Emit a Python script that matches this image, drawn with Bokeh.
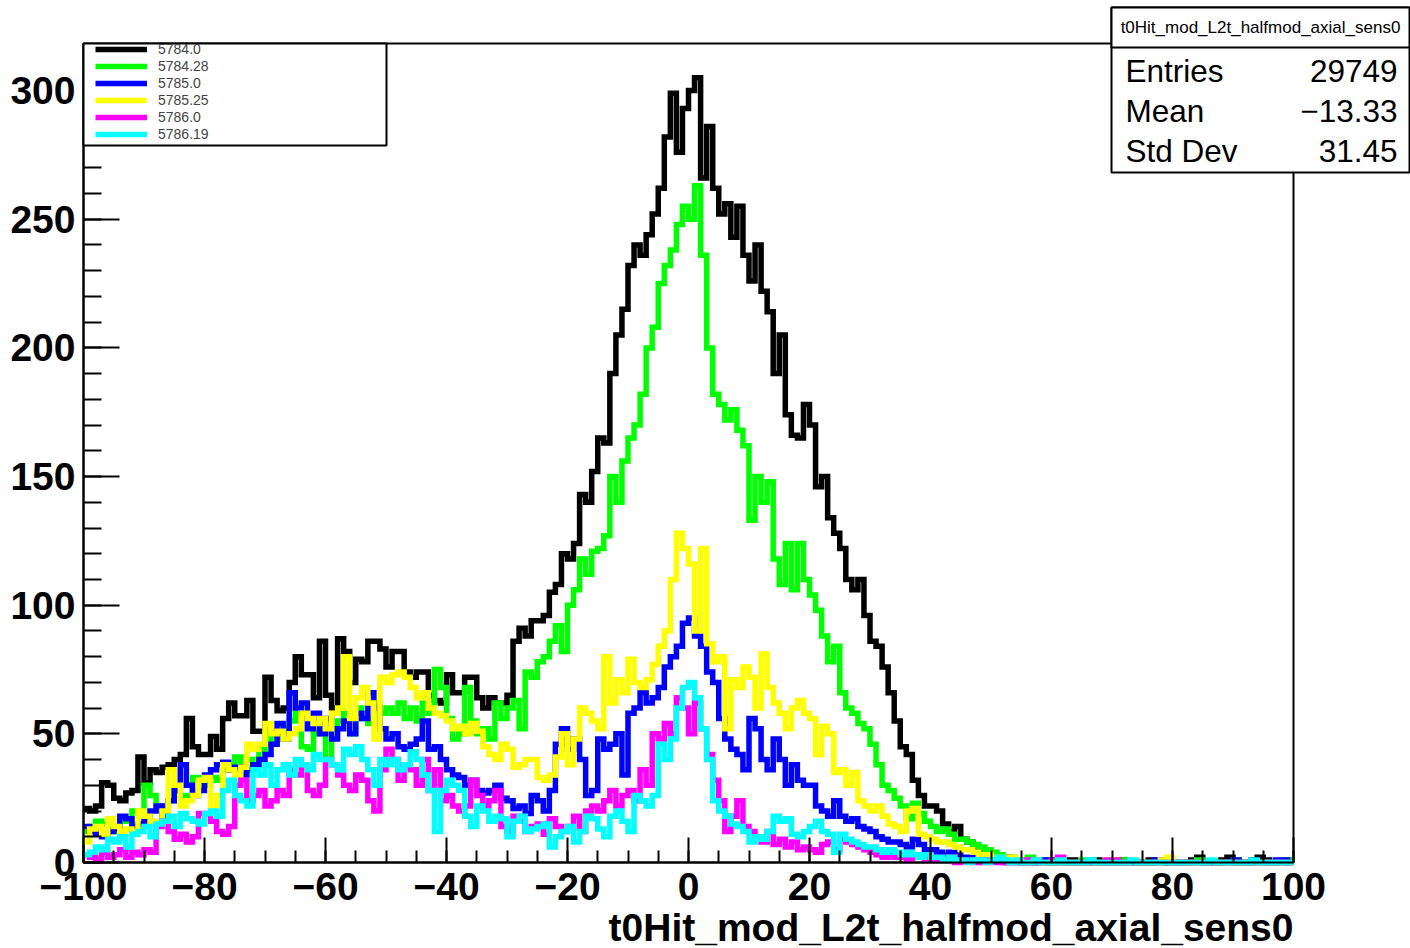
import numpy as np
from bokeh.plotting import figure
from bokeh.models import (Range1d, FixedTicker, Legend, LegendItem, Label,
                          BoxAnnotation, CustomJSTickFormatter)
from bokeh.embed import file_html
from bokeh.resources import INLINE

# ---------------- data ----------------
hist_name = "t0Hit_mod_L2t_halfmod_axial_sens0"
bin_low, bin_high = -100, 100          # 200 bins of width 1

run_labels = ["5784.0", "5784.28", "5785.0", "5785.25", "5786.0", "5786.19"]
run_colors = ["#000000", "#00ff00", "#0000ff", "#ffff00", "#ff00ff", "#00ffff"]

counts_5784_0 = [
    21, 20, 22, 31, 30, 25, 24, 27, 28, 41,
    31, 36, 35, 37, 38, 40, 42, 56, 45, 42,
    42, 49, 44, 56, 62, 57, 57, 63, 51, 51,
    72, 63, 59, 60, 70, 80, 73, 73, 64, 86,
    65, 60, 87, 82, 70, 79, 78, 86, 86, 83,
    76, 82, 82, 74, 72, 74, 74, 65, 63, 62,
    73, 66, 66, 72, 72, 64, 60, 64, 62, 62,
    65, 86, 91, 88, 94, 94, 96, 105, 108, 120,
    118, 124, 143, 140, 152, 165, 163, 190, 205, 215,
    232, 240, 236, 244, 252, 262, 282, 299, 276, 293,
    300, 305, 266, 286, 262, 252, 256, 243, 255, 236,
    226, 240, 222, 214, 190, 205, 174, 166, 165, 178,
    170, 146, 150, 134, 128, 122, 110, 106, 110, 96,
    86, 84, 76, 66, 55, 45, 42, 32, 26, 22,
    22, 20, 15, 12, 14, 9, 8, 5, 4, 4,
    3, 2, 2, 1, 1, 0, 1, 0, 1, 0,
    1, 0, 0, 1, 0, 0, 0, 1, 0, 0,
    0, 1, 0, 0, 0, 0, 1, 0, 0, 0,
    0, 0, 0, 1, 2, 0, 0, 0, 1, 2,
    0, 0, 0, 1, 2, 1, 0, 0, 0, 1,
]
counts_5784_28 = [
    12, 14, 16, 15, 13, 12, 16, 16, 20, 20,
    30, 26, 22, 20, 24, 28, 26, 25, 33, 30,
    30, 33, 32, 36, 38, 41, 36, 40, 38, 44,
    50, 46, 48, 52, 55, 58, 45, 44, 50, 52,
    40, 52, 55, 58, 50, 60, 56, 54, 62, 58,
    60, 58, 62, 56, 60, 55, 62, 58, 75, 68,
    56, 48, 50, 68, 55, 50, 52, 48, 62, 56,
    60, 63, 52, 74, 72, 78, 80, 86, 92, 82,
    100, 106, 118, 112, 121, 122, 127, 150, 140, 156,
    165, 170, 182, 200, 208, 225, 232, 238, 248, 255,
    250, 263, 236, 200, 182, 178, 172, 176, 168, 162,
    133, 150, 140, 148, 118, 108, 124, 106, 124, 110,
    104, 98, 88, 78, 84, 66, 60, 58, 54, 52,
    46, 38, 30, 28, 25, 22, 17, 23, 19, 16,
    14, 12, 13, 11, 9, 9, 8, 7, 6, 5,
    4, 3, 2, 2, 1, 1, 2, 1, 1, 0,
    0, 1, 0, 0, 0, 1, 1, 0, 0, 0,
    0, 0, 1, 0, 0, 0, 0, 0, 1, 0,
    0, 0, 0, 0, 1, 0, 0, 0, 0, 0,
    1, 0, 0, 0, 0, 0, 0, 0, 1, 1,
]
counts_5785_0 = [
    14, 12, 11, 10, 12, 13, 18, 17, 14, 15,
    16, 20, 22, 18, 24, 28, 38, 30, 26, 28,
    34, 36, 38, 39, 36, 37, 34, 36, 38, 40,
    42, 46, 54, 48, 66, 60, 62, 52, 58, 50,
    56, 48, 52, 55, 50, 58, 56, 66, 60, 52,
    48, 50, 45, 44, 46, 48, 55, 44, 45, 40,
    36, 34, 33, 30, 32, 28, 27, 28, 30, 25,
    24, 21, 22, 19, 26, 24, 20, 28, 46, 52,
    44, 48, 40, 26, 28, 48, 44, 46, 50, 34,
    58, 60, 66, 62, 64, 68, 76, 80, 84, 93,
    95, 88, 84, 74, 70, 56, 48, 44, 42, 36,
    56, 52, 40, 36, 48, 40, 30, 38, 32, 30,
    30, 22, 20, 18, 24, 18, 16, 17, 14, 13,
    12, 10, 9, 8, 8, 7, 6, 9, 7, 5,
    5, 4, 3, 4, 3, 2, 2, 1, 2, 1,
    1, 1, 0, 1, 0, 0, 1, 0, 1, 1,
    0, 0, 0, 0, 0, 0, 0, 0, 0, 0,
    0, 0, 0, 0, 0, 0, 0, 1, 1, 0,
    0, 0, 0, 0, 0, 0, 0, 0, 0, 0,
    1, 0, 0, 0, 0, 0, 0, 1, 1, 0,
]
counts_5785_25 = [
    8, 13, 14, 11, 17, 14, 12, 13, 12, 20,
    18, 16, 14, 20, 36, 30, 22, 24, 26, 32,
    33, 22, 26, 38, 36, 33, 37, 46, 44, 46,
    54, 50, 51, 48, 50, 52, 58, 56, 54, 56,
    52, 58, 60, 80, 56, 64, 68, 62, 48, 72,
    70, 73, 74, 72, 68, 64, 66, 60, 58, 57,
    55, 52, 53, 50, 54, 51, 45, 42, 40, 46,
    44, 37, 38, 40, 40, 33, 32, 34, 41, 50,
    38, 48, 60, 58, 55, 52, 80, 62, 71, 66,
    79, 70, 68, 71, 77, 84, 90, 110, 128, 122,
    116, 90, 122, 85, 78, 80, 52, 71, 68, 76,
    72, 60, 81, 68, 62, 58, 52, 60, 63, 58,
    56, 42, 53, 50, 35, 36, 30, 35, 24, 22,
    20, 22, 18, 15, 14, 12, 20, 21, 11, 10,
    9, 8, 8, 7, 6, 5, 5, 4, 3, 3,
    2, 2, 1, 2, 1, 0, 1, 1, 0, 0,
    0, 0, 0, 0, 0, 0, 0, 0, 0, 1,
    1, 0, 0, 0, 0, 0, 0, 0, 1, 2,
    0, 0, 0, 0, 0, 0, 0, 0, 0, 0,
    0, 0, 0, 0, 0, 0, 0, 0, 0, 0,
]
counts_5786_0 = [
    3, 2, 1, 4, 2, 3, 5, 2, 4, 3,
    5, 4, 14, 16, 12, 9, 11, 8, 10, 19,
    19, 16, 12, 11, 14, 30, 32, 24, 26, 28,
    22, 24, 28, 26, 36, 34, 38, 28, 26, 30,
    40, 38, 34, 30, 28, 34, 32, 24, 20, 36,
    44, 40, 32, 38, 36, 30, 40, 28, 36, 24,
    26, 22, 20, 22, 32, 26, 22, 24, 28, 14,
    12, 18, 16, 12, 14, 15, 11, 17, 14, 12,
    14, 18, 12, 20, 22, 20, 24, 28, 22, 26,
    28, 24, 36, 30, 50, 48, 54, 50, 64, 60,
    50, 62, 52, 42, 32, 24, 12, 18, 24, 14,
    12, 10, 8, 12, 7, 9, 6, 8, 5, 6,
    5, 4, 7, 8, 5, 9, 8, 7, 6, 5,
    4, 3, 2, 3, 2, 2, 1, 3, 2, 1,
    2, 1, 1, 2, 0, 1, 1, 0, 0, 1,
    0, 1, 0, 0, 0, 0, 1, 0, 0, 0,
    1, 2, 0, 0, 0, 0, 0, 0, 0, 1,
    1, 0, 0, 0, 0, 0, 0, 0, 0, 0,
    0, 0, 0, 0, 0, 0, 0, 0, 0, 0,
    0, 0, 0, 0, 0, 0, 0, 0, 0, 0,
]
counts_5786_19 = [
    3, 4, 6, 5, 9, 8, 10, 6, 11, 12,
    14, 10, 15, 16, 18, 14, 19, 17, 16, 15,
    19, 20, 18, 28, 32, 26, 24, 22, 36, 34,
    38, 30, 36, 38, 34, 40, 38, 36, 42, 40,
    40, 38, 36, 44, 42, 45, 40, 36, 30, 40,
    38, 40, 36, 38, 43, 40, 34, 28, 12, 28,
    32, 30, 28, 18, 14, 22, 20, 16, 18, 17,
    10, 16, 18, 12, 13, 14, 15, 6, 10, 12,
    14, 8, 12, 18, 17, 13, 10, 18, 20, 16,
    12, 26, 24, 22, 26, 46, 40, 48, 60, 68,
    70, 64, 52, 40, 24, 20, 18, 15, 14, 12,
    8, 10, 9, 12, 18, 16, 17, 11, 10, 12,
    14, 16, 12, 11, 4, 11, 9, 8, 7, 6,
    6, 5, 4, 5, 4, 3, 4, 3, 2, 3,
    2, 2, 1, 2, 1, 1, 0, 1, 1, 0,
    1, 2, 1, 0, 1, 0, 0, 1, 0, 0,
    0, 1, 0, 0, 0, 0, 1, 0, 0, 0,
    0, 0, 0, 1, 0, 0, 0, 0, 0, 0,
    0, 0, 0, 0, 0, 0, 1, 0, 0, 0,
    0, 0, 0, 1, 0, 0, 0, 0, 0, 0,
]
all_counts = [counts_5784_0, counts_5784_28, counts_5785_0,
              counts_5785_25, counts_5786_0, counts_5786_19]

x_major = [-100, -80, -60, -40, -20, 0, 20, 40, 60, 80, 100]
x_minor = list(range(-100, 101, 5))
y_major = [0, 50, 100, 150, 200, 250, 300]
y_minor = list(range(0, 311, 10))
y_top = 318.3

stats_names = ["Entries", "Mean", "Std Dev"]
stats_values = ["29749", "\u221213.33", "31.45"]

# ---------------- layout (pixels) ----------------
W, H = 1410, 948
PX_L, PX_R, PX_T, PX_B = 83, 1293, 43, 862      # histogram frame on canvas
ux = (PX_R - PX_L) / (bin_high - bin_low)
uy = (PX_B - PX_T) / y_top

p = figure(width=W, height=H, output_backend="svg", toolbar_location=None,
           x_range=Range1d(bin_low - PX_L / ux, bin_high + (W - PX_R) / ux),
           y_range=Range1d(-(H - PX_B) / uy, y_top + PX_T / uy),
           min_border=0)
p.title.visible = False
p.background_fill_color = "white"
p.border_fill_color = "white"
p.outline_line_color = None
p.xgrid.visible = False
p.ygrid.visible = False

fmt = CustomJSTickFormatter(code="return tick < 0 ? '\\u2212' + Math.abs(tick) : String(tick);")

xa = p.xaxis[0]
xa.fixed_location = 0
xa.bounds = (bin_low, bin_high)
xa.ticker = FixedTicker(ticks=x_major, minor_ticks=x_minor)
xa.formatter = fmt
xa.major_tick_in, xa.major_tick_out = 25, 0
xa.minor_tick_in, xa.minor_tick_out = 12, 0
xa.major_label_standoff = 10

ya = p.yaxis[0]
ya.fixed_location = bin_low
ya.bounds = (0, y_top)
ya.ticker = FixedTicker(ticks=y_major, minor_ticks=y_minor)
ya.formatter = fmt
ya.major_tick_in, ya.major_tick_out = 36, 0
ya.minor_tick_in, ya.minor_tick_out = 18, 0
ya.major_label_standoff = 8

for ax in (xa, ya):
    ax.axis_line_width = 2
    ax.major_tick_line_width = 2
    ax.minor_tick_line_width = 2
    ax.axis_line_color = "black"
    ax.major_tick_line_color = "black"
    ax.minor_tick_line_color = "black"
    ax.major_label_text_font = "Liberation Sans"
    ax.major_label_text_font_style = "bold"
    ax.major_label_text_font_size = "39px"
    ax.major_label_text_color = "black"

# frame box (top and right edges of the histogram frame)
p.add_layout(BoxAnnotation(left=bin_low, right=bin_high, bottom=0, top=y_top,
                           fill_alpha=0, line_color="black", line_alpha=1,
                           line_width=2, level="underlay"))

edges = np.linspace(bin_low, bin_high, len(counts_5784_0) + 1)
items = []
for lab, col, cnt in zip(run_labels, run_colors, all_counts):
    yv = np.append(np.array(cnt, dtype=float), cnt[-1])
    r = p.step(x=edges, y=yv, mode="after", line_color=col, line_width=5.5,
               line_join="miter")
    items.append(LegendItem(label=lab, renderers=[r]))

# legend box + legend entries
LG_L, LG_R, LG_T, LG_B = 83, 386, 43, 145
p.add_layout(BoxAnnotation(left=LG_L, right=LG_R, top=LG_T, bottom=LG_B,
                           left_units="canvas", right_units="canvas",
                           top_units="canvas", bottom_units="canvas",
                           fill_color="white", fill_alpha=1,
                           line_color="black", line_alpha=1, line_width=2,
                           level="annotation"))
legend = Legend(items=items, location=(95, H - 142), margin=0, padding=0,
                spacing=1, glyph_width=52, glyph_height=12, label_height=12,
                label_standoff=11, label_width=200,
                label_text_font="Liberation Sans", label_text_font_size="14px",
                border_line_color=None, background_fill_alpha=0)
p.add_layout(legend)

# x-axis title (right aligned at frame edge)
p.add_layout(Label(x=PX_R, y=927, x_units="canvas", y_units="canvas",
                   text=hist_name, text_align="right", text_baseline="alphabetic",
                   text_font="Liberation Sans", text_font_style="bold",
                   text_font_size="39px", text_color="black", level="overlay"))

# statistics box
SB_L, SB_R, SB_T, SB_M, SB_B = 1111, 1409, 7, 47, 172
p.add_layout(BoxAnnotation(left=SB_L, right=SB_R, top=SB_T, bottom=SB_B,
                           left_units="canvas", right_units="canvas",
                           top_units="canvas", bottom_units="canvas",
                           fill_color="white", fill_alpha=1,
                           line_color="black", line_alpha=1, line_width=2,
                           level="overlay"))
p.add_layout(BoxAnnotation(left=SB_L, right=SB_R, top=SB_T, bottom=SB_M,
                           left_units="canvas", right_units="canvas",
                           top_units="canvas", bottom_units="canvas",
                           fill_color="white", fill_alpha=1,
                           line_color="black", line_alpha=1, line_width=2,
                           level="overlay"))
p.add_layout(Label(x=(SB_L + SB_R) / 2, y=(SB_T + SB_M) / 2, x_units="canvas",
                   y_units="canvas", text=hist_name, text_align="center",
                   text_baseline="middle", text_font="Liberation Sans",
                   text_font_size="17px", text_color="black", level="overlay"))
for i, (nm, vl) in enumerate(zip(stats_names, stats_values)):
    yb = 70 + 40 * i
    p.add_layout(Label(x=SB_L + 14, y=yb, x_units="canvas", y_units="canvas",
                       text=nm, text_align="left", text_baseline="alphabetic",
                       text_font="Liberation Sans", text_font_size="31.5px",
                       text_color="black", level="overlay"))
    p.add_layout(Label(x=SB_R - 12, y=yb, x_units="canvas", y_units="canvas",
                       text=vl, text_align="right", text_baseline="alphabetic",
                       text_font="Liberation Sans", text_font_size="31.5px",
                       text_color="black", level="overlay"))

open("out.html", "w").write(file_html(p, INLINE))
